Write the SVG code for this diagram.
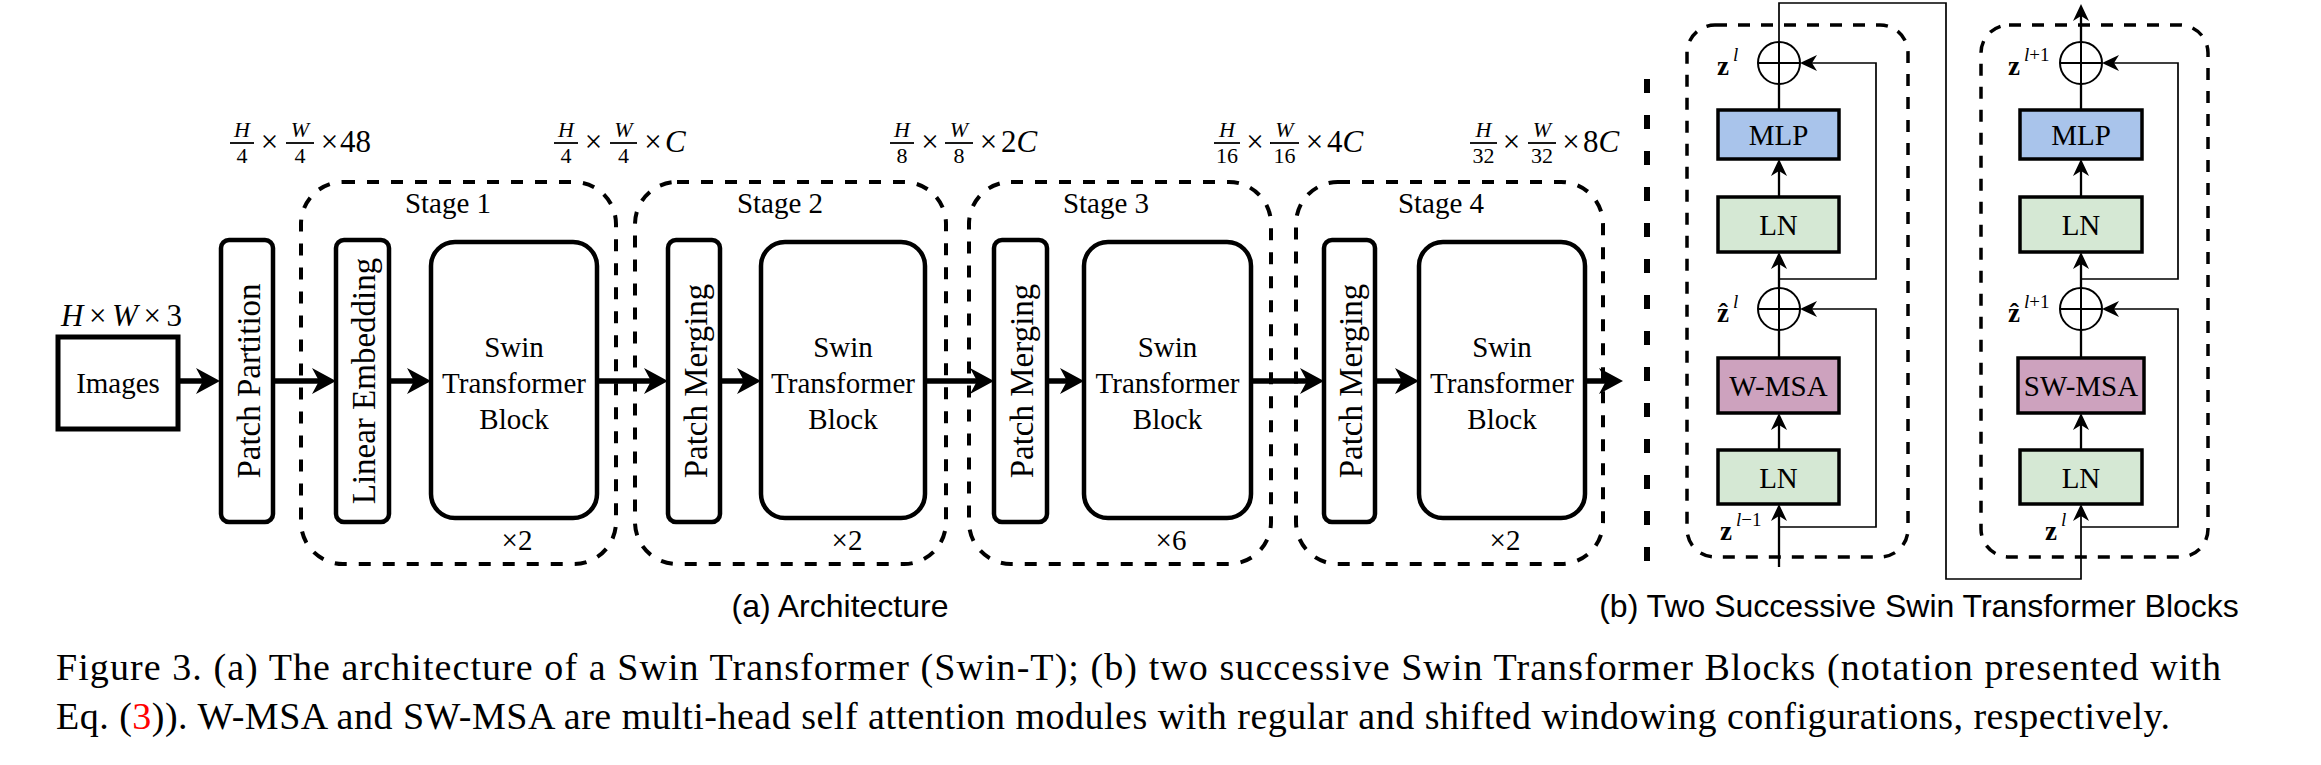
<svg xmlns="http://www.w3.org/2000/svg" width="2321" height="765" viewBox="0 0 2321 765">
<style>
text{font-family:"Liberation Serif","DejaVu Serif",serif;fill:#000}
.t29{font-size:29px}
.t33{font-size:33px}
.mid{text-anchor:middle}
.it{font-style:italic}
.bx{fill:#fff;stroke:#000;stroke-width:4.5}
.stage{fill:none;stroke:#000;stroke-width:4;stroke-dasharray:12 12}
.blk{fill:none;stroke:#000;stroke-width:3.5;stroke-dasharray:12 11}
.sep{fill:none;stroke:#000;stroke-width:6;stroke-dasharray:14 22}
.arr{fill:none;stroke:#000;stroke-width:5.5}
.cl{fill:none;stroke:#000;stroke-width:2.3}
.rl{fill:none;stroke:#000;stroke-width:1.7}
.mlp{fill:#A9C4EB;stroke:#000;stroke-width:3.5}
.ln{fill:#D5E8D4;stroke:#000;stroke-width:3.5}
.msa{fill:#CDA2BE;stroke:#000;stroke-width:3.5}
.fb{stroke:#000;stroke-width:1.8}
.num{font-size:22px}
.big{font-size:31px}
.zb{font-size:27px;font-weight:bold}
.sup{font-size:19px}
.sans{font-family:"Liberation Sans",Arial,sans-serif;font-size:32px}
.cap{font-size:38px}
</style>
<defs>
<marker id="ah" viewBox="0 0 24 26" refX="12" refY="13" markerWidth="24" markerHeight="26" markerUnits="userSpaceOnUse" orient="auto"><path d="M0,0 L24,13 L0,26 L7,13 Z" fill="#000"/></marker>
<marker id="as" viewBox="0 0 17 16" refX="8" refY="8" markerWidth="17" markerHeight="16" markerUnits="userSpaceOnUse" orient="auto"><path d="M0,0 L17,8 L0,16 L5,8 Z" fill="#000"/></marker>
</defs>

<!-- dimension labels -->
<g id="dim0">
<text x="61" y="326" class="big" textLength="121" lengthAdjust="spacing"><tspan class="it">H</tspan>×<tspan class="it">W</tspan>×3</text>
</g>
<g id="dim1">
<text x="242" y="137" class="num it mid">H</text><line x1="230" y1="143" x2="254" y2="143" class="fb"/><text x="242" y="163" class="num mid">4</text>
<text x="269.5" y="152" class="big mid">×</text>
<text x="300" y="137" class="num it mid">W</text><line x1="286" y1="143" x2="314" y2="143" class="fb"/><text x="300" y="163" class="num mid">4</text>
<text x="329.5" y="152" class="big mid">×</text>
<text x="340" y="152" class="big">48</text>
</g>
<g id="dim2">
<text x="566" y="137" class="num it mid">H</text><line x1="554" y1="143" x2="578" y2="143" class="fb"/><text x="566" y="163" class="num mid">4</text>
<text x="593.5" y="152" class="big mid">×</text>
<text x="623.5" y="137" class="num it mid">W</text><line x1="610" y1="143" x2="637" y2="143" class="fb"/><text x="623.5" y="163" class="num mid">4</text>
<text x="653" y="152" class="big mid">×</text>
<text x="665" y="152" class="big it">C</text>
</g>
<g id="dim3">
<text x="902" y="137" class="num it mid">H</text><line x1="890" y1="143" x2="914" y2="143" class="fb"/><text x="902" y="163" class="num mid">8</text>
<text x="930" y="152" class="big mid">×</text>
<text x="959" y="137" class="num it mid">W</text><line x1="945" y1="143" x2="973" y2="143" class="fb"/><text x="959" y="163" class="num mid">8</text>
<text x="988.5" y="152" class="big mid">×</text>
<text x="1001" y="152" class="big">2<tspan class="it">C</tspan></text>
</g>
<g id="dim4">
<text x="1227" y="137" class="num it mid">H</text><line x1="1214" y1="143" x2="1240" y2="143" class="fb"/><text x="1227" y="163" class="num mid">16</text>
<text x="1255" y="152" class="big mid">×</text>
<text x="1284.5" y="137" class="num it mid">W</text><line x1="1270" y1="143" x2="1299" y2="143" class="fb"/><text x="1284.5" y="163" class="num mid">16</text>
<text x="1314.5" y="152" class="big mid">×</text>
<text x="1327" y="152" class="big">4<tspan class="it">C</tspan></text>
</g>
<g id="dim5">
<text x="1483.5" y="137" class="num it mid">H</text><line x1="1470" y1="143" x2="1497" y2="143" class="fb"/><text x="1483.5" y="163" class="num mid">32</text>
<text x="1511.5" y="152" class="big mid">×</text>
<text x="1542" y="137" class="num it mid">W</text><line x1="1528" y1="143" x2="1556" y2="143" class="fb"/><text x="1542" y="163" class="num mid">32</text>
<text x="1571" y="152" class="big mid">×</text>
<text x="1583" y="152" class="big">8<tspan class="it">C</tspan></text>
</g>

<!-- stages -->
<g id="stage1"><rect x="301" y="182" width="315" height="382" rx="42" class="stage"/><text x="448" y="213" class="t29 mid">Stage 1</text><text x="517" y="550" class="t29 mid">×2</text></g>
<g id="stage2"><rect x="635" y="182" width="311" height="382" rx="42" class="stage"/><text x="780" y="213" class="t29 mid">Stage 2</text><text x="847" y="550" class="t29 mid">×2</text></g>
<g id="stage3"><rect x="969" y="182" width="302" height="382" rx="42" class="stage"/><text x="1106" y="213" class="t29 mid">Stage 3</text><text x="1171" y="550" class="t29 mid">×6</text></g>
<g id="stage4"><rect x="1296" y="182" width="307" height="382" rx="42" class="stage"/><text x="1441" y="213" class="t29 mid">Stage 4</text><text x="1505" y="550" class="t29 mid">×2</text></g>

<!-- nodes left -->
<g id="images"><rect x="58" y="337" width="120" height="92" fill="#fff" stroke="#000" stroke-width="5"/><text x="118" y="393" class="t29 mid">Images</text></g>
<g id="patch-partition"><rect x="221" y="240" width="52" height="282" rx="8" class="bx"/><text transform="translate(260,381) rotate(-90)" class="t33 mid">Patch Partition</text></g>
<g id="linear-embedding"><rect x="336" y="240" width="53" height="282" rx="8" class="bx"/><text transform="translate(375,381) rotate(-90)" class="t33 mid">Linear Embedding</text></g>
<g id="stb1"><rect x="431" y="242" width="166" height="276" rx="24" class="bx"/><text class="t29 mid"><tspan x="514" y="357">Swin</tspan><tspan x="514" y="393">Transformer</tspan><tspan x="514" y="429">Block</tspan></text></g>
<g id="pm2"><rect x="668" y="240" width="52" height="282" rx="8" class="bx"/><text transform="translate(707,381) rotate(-90)" class="t33 mid">Patch Merging</text></g>
<g id="stb2"><rect x="761" y="242" width="164" height="276" rx="24" class="bx"/><text class="t29 mid"><tspan x="843" y="357">Swin</tspan><tspan x="843" y="393">Transformer</tspan><tspan x="843" y="429">Block</tspan></text></g>
<g id="pm3"><rect x="994" y="240" width="53" height="282" rx="8" class="bx"/><text transform="translate(1033,381) rotate(-90)" class="t33 mid">Patch Merging</text></g>
<g id="stb3"><rect x="1084" y="242" width="167" height="276" rx="24" class="bx"/><text class="t29 mid"><tspan x="1167.5" y="357">Swin</tspan><tspan x="1167.5" y="393">Transformer</tspan><tspan x="1167.5" y="429">Block</tspan></text></g>
<g id="pm4"><rect x="1324" y="240" width="51" height="282" rx="8" class="bx"/><text transform="translate(1362,381) rotate(-90)" class="t33 mid">Patch Merging</text></g>
<g id="stb4"><rect x="1419" y="242" width="166" height="276" rx="24" class="bx"/><text class="t29 mid"><tspan x="1502" y="357">Swin</tspan><tspan x="1502" y="393">Transformer</tspan><tspan x="1502" y="429">Block</tspan></text></g>

<!-- separator -->
<line id="separator" x1="1647" y1="79" x2="1647" y2="565" class="sep"/>

<!-- right panel blocks -->
<g id="block1">
<rect x="1687" y="25" width="221" height="532" rx="28" class="blk"/>
<rect x="1718" y="110" width="121" height="49" class="mlp"/><text x="1778.5" y="145" class="t29 mid">MLP</text>
<rect x="1718" y="197" width="121" height="55" class="ln"/><text x="1778.5" y="235" class="t29 mid">LN</text>
<rect x="1718" y="358" width="121" height="55" class="msa"/><text x="1778.5" y="396" class="t29 mid">W-MSA</text>
<rect x="1718" y="450" width="121" height="54" class="ln"/><text x="1778.5" y="488" class="t29 mid">LN</text>
</g>
<g id="block2">
<rect x="1981" y="25" width="227" height="532" rx="28" class="blk"/>
<rect x="2020" y="110" width="122" height="49" class="mlp"/><text x="2081" y="145" class="t29 mid">MLP</text>
<rect x="2020" y="197" width="122" height="55" class="ln"/><text x="2081" y="235" class="t29 mid">LN</text>
<rect x="2018" y="358" width="126" height="55" class="msa"/><text x="2081" y="396" class="t29 mid">SW-MSA</text>
<rect x="2020" y="450" width="122" height="54" class="ln"/><text x="2081" y="488" class="t29 mid">LN</text>
</g>
<g id="adders">
<circle cx="1779" cy="63" r="21" fill="none" stroke="#000" stroke-width="2"/><line x1="1758" y1="63" x2="1800" y2="63" stroke="#000" stroke-width="2"/><line x1="1779" y1="42" x2="1779" y2="84" stroke="#000" stroke-width="2"/>
<circle cx="1779" cy="309" r="21" fill="none" stroke="#000" stroke-width="2"/><line x1="1758" y1="309" x2="1800" y2="309" stroke="#000" stroke-width="2"/><line x1="1779" y1="288" x2="1779" y2="330" stroke="#000" stroke-width="2"/>
<circle cx="2081" cy="63" r="21" fill="none" stroke="#000" stroke-width="2"/><line x1="2060" y1="63" x2="2102" y2="63" stroke="#000" stroke-width="2"/><line x1="2081" y1="42" x2="2081" y2="84" stroke="#000" stroke-width="2"/>
<circle cx="2081" cy="309" r="21" fill="none" stroke="#000" stroke-width="2"/><line x1="2060" y1="309" x2="2102" y2="309" stroke="#000" stroke-width="2"/><line x1="2081" y1="288" x2="2081" y2="330" stroke="#000" stroke-width="2"/>
</g>
<g id="zlabels">
<text x="1717" y="75" class="zb">z</text><text x="1733" y="61" class="sup it">l</text>
<text x="1717" y="322" class="zb">ẑ</text><text x="1733" y="308" class="sup it">l</text>
<text x="1720" y="540" class="zb">z</text><text x="1736" y="526" class="sup"><tspan class="it">l</tspan>−1</text>
<text x="2008" y="75" class="zb">z</text><text x="2024" y="61" class="sup"><tspan class="it">l</tspan>+1</text>
<text x="2008" y="322" class="zb">ẑ</text><text x="2024" y="308" class="sup"><tspan class="it">l</tspan>+1</text>
<text x="2045" y="540" class="zb">z</text><text x="2061" y="526" class="sup it">l</text>
</g>

<!-- connectors -->
<g id="connectors">
<line x1="178" y1="381" x2="208" y2="381" class="arr" marker-end="url(#ah)"/>
<line x1="273" y1="381" x2="324" y2="381" class="arr" marker-end="url(#ah)"/>
<line x1="389" y1="381" x2="419" y2="381" class="arr" marker-end="url(#ah)"/>
<line x1="597" y1="381" x2="656" y2="381" class="arr" marker-end="url(#ah)"/>
<line x1="720" y1="381" x2="749" y2="381" class="arr" marker-end="url(#ah)"/>
<line x1="925" y1="381" x2="982" y2="381" class="arr" marker-end="url(#ah)"/>
<line x1="1047" y1="381" x2="1072" y2="381" class="arr" marker-end="url(#ah)"/>
<line x1="1251" y1="381" x2="1312" y2="381" class="arr" marker-end="url(#ah)"/>
<line x1="1375" y1="381" x2="1407" y2="381" class="arr" marker-end="url(#ah)"/>
<line x1="1585" y1="381" x2="1611" y2="381" class="arr" marker-end="url(#ah)"/>

<line x1="1779" y1="567" x2="1779" y2="513" class="cl" marker-end="url(#as)"/>
<line x1="1779" y1="450" x2="1779" y2="422" class="cl" marker-end="url(#as)"/>
<line x1="1779" y1="358" x2="1779" y2="330" class="cl"/>
<line x1="1779" y1="288" x2="1779" y2="261" class="cl" marker-end="url(#as)"/>
<line x1="1779" y1="197" x2="1779" y2="168" class="cl" marker-end="url(#as)"/>
<line x1="1779" y1="110" x2="1779" y2="84" class="cl"/>
<path d="M1779,527 H1876 V309 H1809" class="rl" marker-end="url(#as)"/>
<path d="M1779,279 H1876 V63 H1809" class="rl" marker-end="url(#as)"/>
<path d="M1779,42 V3 H1946 V579 H2081 V513" class="rl" marker-end="url(#as)"/>

<line x1="2081" y1="450" x2="2081" y2="422" class="cl" marker-end="url(#as)"/>
<line x1="2081" y1="358" x2="2081" y2="330" class="cl"/>
<line x1="2081" y1="288" x2="2081" y2="261" class="cl" marker-end="url(#as)"/>
<line x1="2081" y1="197" x2="2081" y2="168" class="cl" marker-end="url(#as)"/>
<line x1="2081" y1="110" x2="2081" y2="84" class="cl"/>
<line x1="2081" y1="42" x2="2081" y2="13" class="cl" marker-end="url(#as)"/>
<path d="M2081,527 H2178 V309 H2111" class="rl" marker-end="url(#as)"/>
<path d="M2081,279 H2178 V63 H2111" class="rl" marker-end="url(#as)"/>
</g>

<!-- captions -->
<text x="840" y="617" class="sans mid">(a) Architecture</text>
<text x="1919" y="617" class="sans mid">(b) Two Successive Swin Transformer Blocks</text>
<text x="56" y="680" class="cap" textLength="2165" lengthAdjust="spacing">Figure 3. (a) The architecture of a Swin Transformer (Swin-T); (b) two successive Swin Transformer Blocks (notation presented with</text>
<text x="56" y="729" class="cap" textLength="2114" lengthAdjust="spacing">Eq. (<tspan fill="#FF0000">3</tspan>)). W-MSA and SW-MSA are multi-head self attention modules with regular and shifted windowing configurations, respectively.</text>
</svg>
